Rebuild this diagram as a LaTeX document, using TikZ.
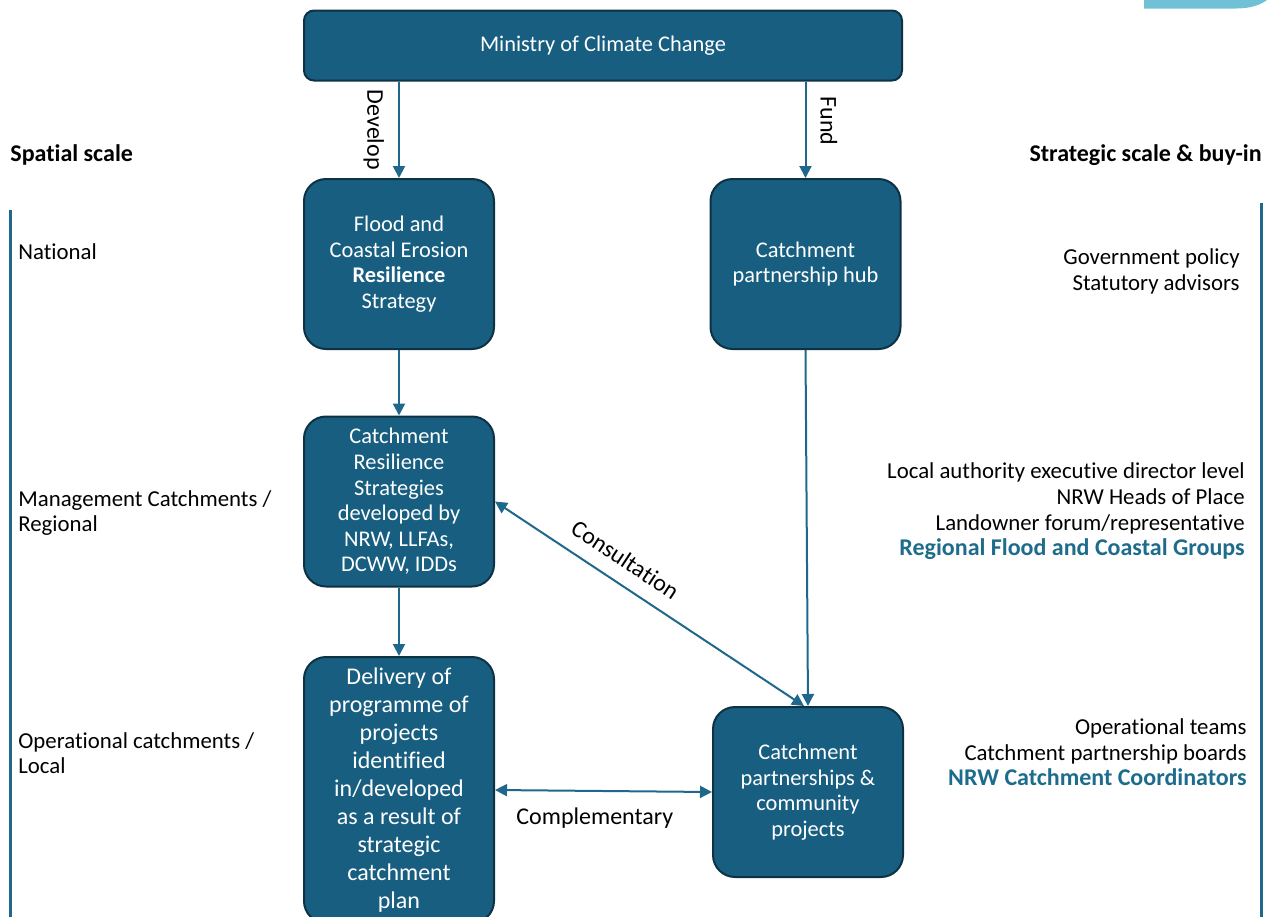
\documentclass[tikz,border=0pt]{standalone}
\usepackage{fontspec}
\setmainfont{Carlito}[Ligatures=NoCommon]
\usetikzlibrary{arrows.meta,positioning}

\definecolor{boxblue}{RGB}{23,94,128}
\definecolor{boxedge}{RGB}{14,50,68}
\definecolor{linkblue}{RGB}{31,104,140}
\definecolor{headblue}{RGB}{30,108,140}
\definecolor{capblue}{RGB}{112,193,214}

\tikzset{
    box/.style={draw=boxedge, line width=1pt, fill=boxblue, text=white,
        rounded corners=11pt, align=center, minimum width=95pt,
        minimum height=85pt, inner sep=2pt,
        font=\fontsize{11.2}{12.8}\selectfont},
    flow/.style={draw=linkblue, line width=1pt,
        -{Triangle[length=6pt,width=6pt]}},
    both/.style={flow, {Triangle[length=6pt,width=6pt]}-{Triangle[length=6pt,width=6pt]}},
    lab/.style={inner sep=0pt, font=\fontsize{11.4}{12.8}\selectfont},
    arrlab/.style={inner sep=0pt, font=\fontsize{12}{14}\selectfont},
    head/.style={inner sep=0pt, font=\fontsize{12}{13}\selectfont\bfseries},
    level/.style={draw=linkblue, line width=1.5pt}
}

\begin{document}
\begin{tikzpicture}[x=0.5pt, y=-0.5pt]

    \useasboundingbox (0,0) rectangle (1271,917);

    % corner tab
    \fill[capblue] (1144,0) -- (1144,8.5) -- (1236,8.5)
        .. controls (1252,8.5) and (1262,4) .. (1267,0) -- cycle;

    \coordinate (lefttop) at (10,210);
    \coordinate (leftbot) at (10,917);
    \coordinate (righttop) at (1261,203);
    \coordinate (rightbot) at (1261,917);

    \draw[level] (lefttop) -- (leftbot);
    \draw[level] (righttop) -- (rightbot);

    \node[box, minimum width=299pt, minimum height=35pt, rounded corners=5pt]
        (mcc) at (603,45.5) {Ministry of Climate Change};
    \node[box] (frs) at (399,264) {Flood and\\Coastal Erosion\\\textbf{Resilience}\\Strategy};
    \node[box] (hub) at (805.5,264) {Catchment\\partnership hub};
    \node[box] (crs) at (399,501.5) {Catchment\\Resilience\\Strategies\\developed by\\NRW, LLFAs,\\DCWW, IDDs};
    \node[box, minimum height=133pt, font=\fontsize{12}{14}\selectfont]
        (dlv) at (399,790) {Delivery of\\programme of\\projects\\identified\\in/developed\\as a result of\\strategic\\catchment\\plan};
    \node[box] (cpp) at (808,792) {Catchment\\partnerships \&\\community\\projects};

    \draw[flow] (mcc.south -| frs) -- node[sloped, below=7pt, arrlab] {Develop} (frs.north);
    \draw[flow] (mcc.south -| hub) -- node[pos=0.41, sloped, above=7pt, arrlab] {Fund} (hub.north);
    \draw[flow] (frs) -- (crs);
    \draw[flow] (crs) -- (dlv);
    \draw[flow] (hub.south) -- (cpp.north);
    \draw[both] (crs.east) -- node[pos=0.38, sloped, above=7pt, arrlab] {Consultation} ([xshift=-2pt]cpp.north);
    \draw[both] (dlv.east) -- node[pos=0.46, below=8pt, arrlab] {Complementary} (cpp.west);

    % spatial scale
    \node[head, anchor=west] at (10,155) {Spatial scale};
    \foreach \y/\t in {252/National, 513/{Management Catchments /\\Regional}, 753/{Operational catchments /\\Local}}
        \node[lab, anchor=west, align=left] at (18,\y) {\t};

    % strategic scale
    \node[head, anchor=east] at (1262,155) {Strategic scale \& buy-in};
    \node[lab, anchor=east, align=right] at (1240,271.5) {Government policy\\Statutory advisors};
    \node[lab, anchor=east, align=right] at (1245,511.5) {Local authority executive director level\\NRW Heads of Place\\Landowner forum/representative\\\textcolor{headblue}{\fontsize{12}{12.8}\selectfont\bfseries Regional Flood and Coastal Groups}};
    \node[lab, anchor=east, align=right] at (1247,752.5) {Operational teams\\Catchment partnership boards\\\textcolor{headblue}{\fontsize{12}{12.8}\selectfont\bfseries NRW Catchment Coordinators}};
        % \node at (1247,800) {};
\end{tikzpicture}
\end{document}
